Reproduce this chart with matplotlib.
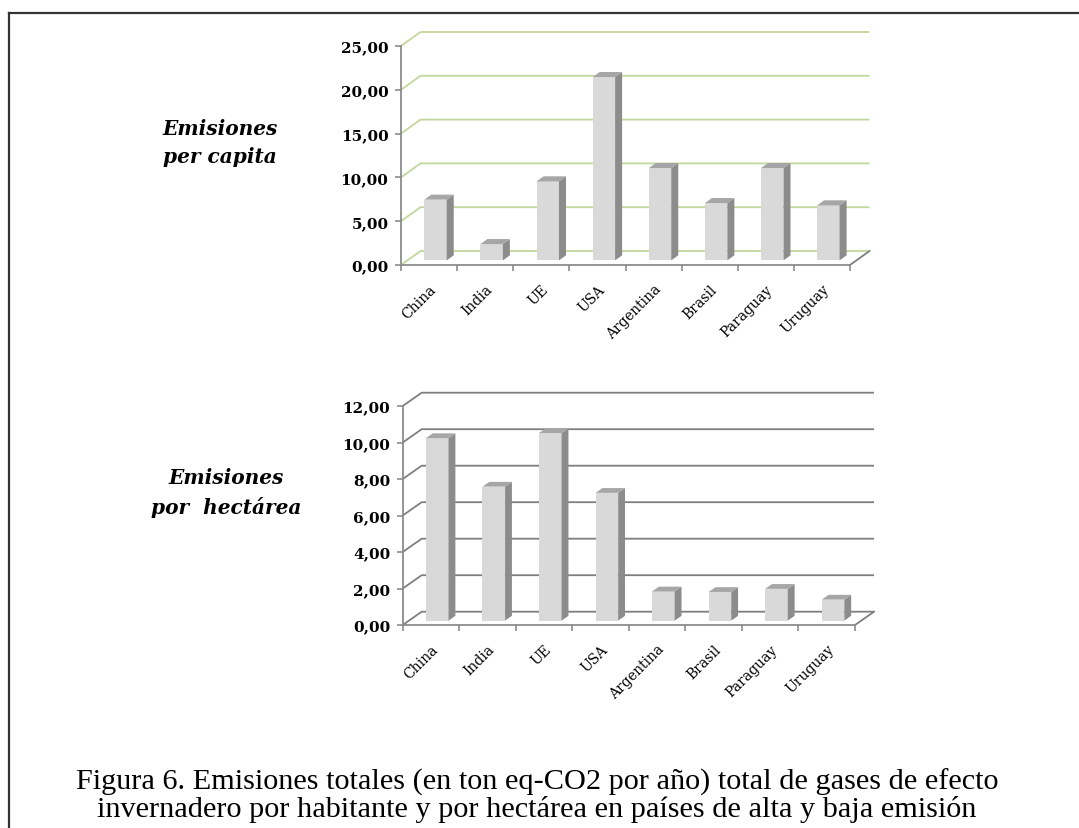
import matplotlib.pyplot as plt
from matplotlib.patches import Polygon
from matplotlib.lines import Line2D

paises = ["China", "India", "UE", "USA", "Argentina", "Brasil", "Paraguay", "Uruguay"]
per_capita = [6.93, 1.86, 9.02, 20.93, 10.54, 6.54, 10.54, 6.28]
por_hectarea = [10.0, 7.34, 10.28, 7.0, 1.6, 1.57, 1.74, 1.15]
ticks_capita = [0, 5, 10, 15, 20, 25]
ticks_hectarea = [0, 2, 4, 6, 8, 10, 12]

W, H = 1079, 829
fig = plt.figure(figsize=(W / 100, H / 100), dpi=100)

FRONT = "#d9d9d9"
SIDE = "#8c8c8c"
TOP = "#a6a6a6"
AXIS = "#8c8c8c"


def panel(x0, x1, y0, ytop, dxp, dyp, valores, ticks, grid_color):
    # x0/x1: front x-axis ends in px, y0: front zero line, ytop: front top tick
    n = len(valores)
    ymax = ticks[-1]
    cat_px = (x1 - x0) / n
    val_px = (y0 - ytop) / ymax
    dx = dxp / cat_px
    dy = dyp / val_px
    ax = fig.add_axes([x0 / W, 1 - y0 / H, (x1 + dxp - x0) / W, (y0 - ytop + dyp) / H])
    ax.set_xlim(0, n + dx)
    ax.set_ylim(0, ymax + dy)
    ax.patch.set_visible(False)

    # side wall + back wall gridlines
    for v in ticks:
        ax.plot([0, dx, n + dx], [v, v + dy, v + dy], color=grid_color, lw=1.3,
                zorder=1, clip_on=False, solid_capstyle="butt")
    ax.plot([n, n + dx], [0, dy], color="#7f7f7f", lw=1.3, zorder=1, clip_on=False)

    # 3d-looking bars
    f0, t, w = 0.33, 0.36, 0.4
    xc = [i + 0.5 + f0 * dx for i in range(n)]
    b = f0 * dy
    ax.bar(xc, valores, width=w, bottom=b, color=FRONT, edgecolor="none", zorder=3)
    for xi, v in zip(xc, valores):
        xl, xr = xi - w / 2, xi + w / 2
        top = b + v
        ax.add_patch(Polygon([(xr, b), (xr + t * dx, b + t * dy),
                              (xr + t * dx, top + t * dy), (xr, top)],
                             closed=True, fc=SIDE, ec="none", zorder=3))
        ax.add_patch(Polygon([(xl, top), (xr, top), (xr + t * dx, top + t * dy),
                              (xl + t * dx, top + t * dy)],
                             closed=True, fc=TOP, ec="none", zorder=3))

    for s in ["top", "right"]:
        ax.spines[s].set_visible(False)
    ax.spines["left"].set_bounds(0, ymax)
    ax.spines["bottom"].set_bounds(0, n)
    for s in ["left", "bottom"]:
        ax.spines[s].set_color(AXIS)
        ax.spines[s].set_linewidth(1.3)
        ax.spines[s].set_zorder(4)

    ax.set_yticks(ticks)
    ax.set_yticklabels([f"{v:.2f}".replace(".", ",") for v in ticks],
                       family="DejaVu Serif", weight="bold", fontsize=11)
    ax.tick_params(axis="y", length=4, width=1.2, color=AXIS, pad=5)

    ax.set_xticks(range(n + 1))
    ax.set_xticklabels([])
    ax.tick_params(axis="x", which="major", length=4, width=1.2, color=AXIS)
    ax.set_xticks([i + 0.5 for i in range(n)], minor=True)
    ax.set_xticklabels(paises, minor=True, family="DejaVu Serif", fontsize=10)
    ax.tick_params(axis="x", which="minor", length=0, pad=12)
    for lab in ax.get_xticklabels(minor=True):
        lab.set_rotation(45)
        lab.set_ha("right")
        lab.set_va("top")
        lab.set_rotation_mode("anchor")
    return ax


panel(401, 850, 266, 47, 19.5, 14, per_capita, ticks_capita, "#c3d69b")
panel(402.7, 855, 626, 407, 19, 13.3, por_hectarea, ticks_hectarea, "#7f7f7f")

fig.text(220 / W, 1 - 143 / H, "Emisiones\nper capita", ha="center", va="center",
         family="DejaVu Serif", style="italic", weight="bold", fontsize=14.5,
         linespacing=1.55)
fig.text(226 / W, 1 - 493 / H, "Emisiones\npor  hectárea", ha="center", va="center",
         family="DejaVu Serif", style="italic", weight="bold", fontsize=14.5,
         linespacing=1.55)

fig.text(537 / W, 1 - 796 / H,
         "Figura 6. Emisiones totales (en ton eq-CO2 por año) total de gases de efecto\n"
         "invernadero por habitante y por hectárea en países de alta y baja emisión",
         ha="center", va="center", multialignment="center",
         family="Liberation Serif", fontsize=21.8, linespacing=1.02)

# frame lines along the top and left edge
fig.add_artist(Line2D([9 / W, 1], [1 - 13.5 / H, 1 - 13.5 / H], color="#333333", lw=1.6))
fig.add_artist(Line2D([9 / W, 9 / W], [1 - 13.5 / H, 0], color="#333333", lw=1.6))

fig.savefig("out.png", dpi=100)
